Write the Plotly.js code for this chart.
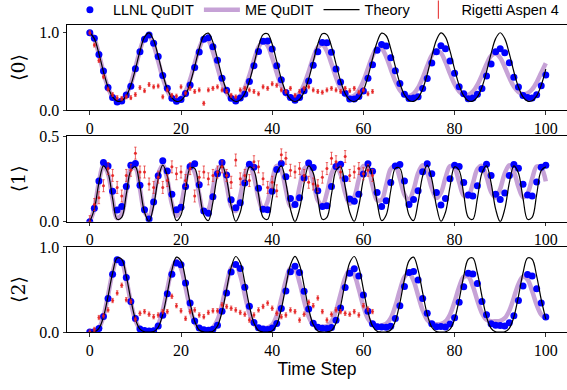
<!DOCTYPE html>
<html><head><meta charset="utf-8">
<script src="https://cdn.plot.ly/plotly-3.0.1.min.js"></script>
<style>html,body{margin:0;padding:0;background:#fff}#chart{width:567px;height:390px}</style>
</head><body><div id="chart"></div>
<script>
const timeSteps = [0,1,2,3,4,5,6,7,8,9,10,11,12,13,14,15,16,17,18,19,20,21,22,23,24,25,26,27,28,29,30,31,32,33,34,35,36,37,38,39,40,41,42,43,44,45,46,47,48,49,50,51,52,53,54,55,56,57,58,59,60,61,62,63,64,65,66,67,68,69,70,71,72,73,74,75,76,77,78,79,80,81,82,83,84,85,86,87,88,89,90,91,92,93,94,95,96,97,98,99,100];
const rigettiSteps = [0,1,2,3,4,5,6,7,8,9,10,11,12,13,14,15,16,17,18,19,20,21,22,23,24,25,26,27,28,29,30,31,32,33,34,35,36,37,38,39,40,41,42,43,44,45,46,47,48,49,50,51,52,53,54,55,56,57,58,59,60,61,62];

const theory0 = [1.000,0.924,0.730,0.495,0.296,0.170,0.115,0.119,0.183,0.320,0.528,0.762,0.944,0.998,0.902,0.697,0.463,0.273,0.158,0.112,0.124,0.198,0.346,0.561,0.793,0.961,0.994,0.878,0.663,0.432,0.252,0.147,0.110,0.131,0.214,0.374,0.595,0.823,0.975,0.986,0.851,0.629,0.402,0.232,0.138,0.110,0.138,0.232,0.402,0.629,0.851,0.986,0.975,0.823,0.595,0.374,0.214,0.131,0.110,0.147,0.252,0.432,0.663,0.878,0.994,0.961,0.793,0.561,0.346,0.198,0.124,0.112,0.158,0.273,0.463,0.697,0.902,0.998,0.944,0.762,0.528,0.320,0.183,0.119,0.115,0.170,0.296,0.495,0.730,0.924,1.000,0.924,0.730,0.495,0.296,0.170,0.115,0.119,0.183,0.320,0.528];
const theory1 = [0.000,0.073,0.227,0.326,0.284,0.136,0.014,0.025,0.159,0.299,0.320,0.205,0.055,0.002,0.093,0.248,0.330,0.267,0.114,0.006,0.039,0.182,0.311,0.311,0.182,0.039,0.006,0.114,0.267,0.330,0.248,0.093,0.002,0.055,0.205,0.320,0.299,0.159,0.025,0.014,0.136,0.284,0.326,0.227,0.073,0.000,0.073,0.227,0.326,0.284,0.136,0.014,0.025,0.159,0.299,0.320,0.205,0.055,0.002,0.093,0.248,0.330,0.267,0.114,0.006,0.039,0.182,0.311,0.311,0.182,0.039,0.006,0.114,0.267,0.330,0.248,0.093,0.002,0.055,0.205,0.320,0.299,0.159,0.025,0.014,0.136,0.284,0.326,0.227,0.073,0.000,0.073,0.227,0.326,0.284,0.136,0.014,0.025,0.159,0.299,0.320];
const theory2 = [0.000,0.003,0.043,0.178,0.420,0.694,0.871,0.856,0.658,0.381,0.152,0.033,0.002,0.000,0.005,0.056,0.207,0.460,0.728,0.881,0.837,0.620,0.343,0.128,0.024,0.001,0.000,0.008,0.070,0.238,0.501,0.760,0.888,0.815,0.581,0.306,0.106,0.018,0.000,0.000,0.012,0.087,0.271,0.541,0.789,0.890,0.789,0.541,0.271,0.087,0.012,0.000,0.000,0.018,0.106,0.306,0.581,0.815,0.888,0.760,0.501,0.238,0.070,0.008,0.000,0.001,0.024,0.128,0.343,0.620,0.837,0.881,0.728,0.460,0.207,0.056,0.005,0.000,0.002,0.033,0.152,0.381,0.658,0.856,0.871,0.694,0.420,0.178,0.043,0.003,0.000,0.003,0.043,0.178,0.420,0.694,0.871,0.856,0.658,0.381,0.152];

const me0 = [1.000,0.920,0.721,0.485,0.289,0.168,0.119,0.129,0.198,0.341,0.548,0.770,0.928,0.954,0.839,0.632,0.415,0.250,0.158,0.129,0.154,0.240,0.395,0.601,0.799,0.914,0.897,0.755,0.551,0.358,0.223,0.155,0.144,0.184,0.285,0.448,0.645,0.813,0.885,0.831,0.675,0.480,0.313,0.206,0.159,0.163,0.217,0.330,0.496,0.678,0.812,0.845,0.761,0.598,0.420,0.279,0.197,0.167,0.185,0.252,0.374,0.537,0.699,0.798,0.794,0.689,0.529,0.371,0.256,0.194,0.181,0.210,0.288,0.415,0.570,0.706,0.770,0.737,0.620,0.469,0.333,0.241,0.198,0.197,0.238,0.325,0.452,0.593,0.700,0.732,0.676,0.556,0.419,0.304,0.234,0.206,0.217,0.267,0.359,0.482,0.604];
const me1 = [0.000,0.076,0.232,0.328,0.279,0.132,0.020,0.044,0.182,0.309,0.313,0.192,0.057,0.030,0.135,0.277,0.329,0.246,0.105,0.034,0.097,0.235,0.327,0.289,0.160,0.056,0.071,0.192,0.308,0.318,0.214,0.091,0.062,0.151,0.278,0.330,0.261,0.137,0.069,0.119,0.241,0.326,0.298,0.186,0.091,0.100,0.203,0.308,0.322,0.234,0.125,0.094,0.168,0.280,0.330,0.275,0.167,0.104,0.143,0.248,0.325,0.306,0.210,0.126,0.128,0.215,0.308,0.324,0.252,0.158,0.127,0.187,0.283,0.330,0.287,0.195,0.138,0.168,0.256,0.324,0.312,0.230,0.153,0.150,0.223,0.307,0.326,0.263,0.174,0.141,0.192,0.282,0.330,0.292,0.203,0.143,0.166,0.251,0.322,0.314,0.235];
const me2 = [0.000,0.004,0.047,0.187,0.432,0.700,0.861,0.827,0.620,0.350,0.139,0.038,0.015,0.016,0.026,0.091,0.256,0.504,0.737,0.837,0.749,0.525,0.278,0.110,0.041,0.030,0.032,0.053,0.141,0.324,0.563,0.754,0.794,0.665,0.437,0.222,0.094,0.050,0.046,0.050,0.084,0.194,0.389,0.608,0.750,0.737,0.580,0.362,0.182,0.088,0.063,0.061,0.071,0.122,0.250,0.446,0.636,0.729,0.672,0.500,0.301,0.157,0.091,0.076,0.078,0.096,0.163,0.305,0.492,0.648,0.692,0.603,0.429,0.255,0.143,0.099,0.092,0.095,0.124,0.207,0.355,0.529,0.649,0.653,0.539,0.368,0.222,0.144,0.126,0.127,0.132,0.162,0.251,0.404,0.563,0.651,0.617,0.482,0.319,0.204,0.161];

const llnl0 = [1.000,0.927,0.719,0.505,0.290,0.161,0.103,0.117,0.195,0.306,0.535,0.753,0.915,0.972,0.865,0.691,0.447,0.281,0.152,0.113,0.137,0.214,0.325,0.551,0.750,0.915,0.935,0.820,0.643,0.410,0.257,0.152,0.116,0.154,0.208,0.369,0.573,0.756,0.890,0.892,0.789,0.572,0.390,0.227,0.163,0.125,0.163,0.248,0.375,0.580,0.754,0.873,0.870,0.748,0.531,0.363,0.216,0.141,0.141,0.176,0.246,0.412,0.585,0.772,0.848,0.828,0.677,0.509,0.342,0.204,0.148,0.154,0.171,0.277,0.407,0.607,0.753,0.832,0.794,0.634,0.477,0.300,0.211,0.147,0.156,0.204,0.279,0.439,0.594,0.754,0.792,0.741,0.610,0.425,0.298,0.187,0.163,0.156,0.199,0.313,0.453];
const llnl1 = [0.000,0.078,0.238,0.345,0.325,0.178,0.068,0.088,0.205,0.330,0.340,0.212,0.070,0.016,0.115,0.268,0.355,0.296,0.160,0.070,0.085,0.205,0.322,0.338,0.215,0.062,0.049,0.145,0.280,0.346,0.272,0.128,0.082,0.110,0.226,0.335,0.318,0.195,0.072,0.070,0.178,0.305,0.340,0.262,0.135,0.100,0.140,0.255,0.342,0.316,0.180,0.088,0.093,0.206,0.322,0.335,0.250,0.132,0.120,0.160,0.278,0.338,0.295,0.170,0.088,0.122,0.228,0.325,0.334,0.238,0.100,0.130,0.180,0.292,0.338,0.280,0.170,0.097,0.135,0.250,0.330,0.322,0.228,0.156,0.150,0.210,0.306,0.335,0.270,0.160,0.130,0.168,0.270,0.334,0.312,0.218,0.156,0.150,0.232,0.318,0.330];
const llnl2 = [0.000,0.004,0.040,0.183,0.395,0.680,0.850,0.815,0.640,0.360,0.160,0.035,0.018,0.012,0.015,0.070,0.198,0.450,0.678,0.812,0.790,0.575,0.340,0.128,0.048,0.025,0.022,0.032,0.078,0.245,0.458,0.705,0.795,0.748,0.525,0.302,0.112,0.050,0.036,0.030,0.048,0.100,0.275,0.482,0.708,0.772,0.700,0.478,0.270,0.104,0.055,0.045,0.040,0.052,0.138,0.281,0.522,0.690,0.745,0.660,0.436,0.245,0.098,0.062,0.058,0.055,0.068,0.160,0.308,0.535,0.700,0.712,0.612,0.395,0.220,0.096,0.062,0.066,0.060,0.094,0.168,0.350,0.531,0.690,0.682,0.570,0.358,0.202,0.096,0.078,0.075,0.072,0.108,0.190,0.370,0.540,0.675,0.660,0.510,0.340,0.176];

const rigetti0 = [1.00,0.84,0.64,0.43,0.27,0.20,0.16,0.15,0.17,0.16,0.20,0.29,0.25,0.33,0.30,0.31,0.17,0.26,0.19,0.18,0.30,0.22,0.28,0.24,0.26,0.087,0.26,0.28,0.30,0.26,0.24,0.19,0.17,0.26,0.28,0.26,0.24,0.21,0.30,0.28,0.34,0.32,0.26,0.24,0.28,0.19,0.24,0.28,0.30,0.26,0.24,0.23,0.26,0.28,0.26,0.24,0.28,0.25,0.28,0.23,0.26,0.21,0.24];
const rigetti1 = [0.00,0.10,0.14,0.21,0.31,0.27,0.20,0.15,0.27,0.30,0.40,0.29,0.29,0.22,0.20,0.26,0.20,0.24,0.32,0.28,0.29,0.24,0.31,0.15,0.26,0.29,0.25,0.27,0.29,0.32,0.27,0.23,0.36,0.25,0.27,0.24,0.35,0.32,0.25,0.20,0.23,0.18,0.39,0.37,0.30,0.29,0.31,0.27,0.23,0.22,0.21,0.26,0.31,0.37,0.35,0.29,0.38,0.27,0.29,0.31,0.28,0.30,0.27];
const rigetti2 = [0.00,0.03,0.17,0.19,0.26,0.37,0.46,0.55,0.38,0.36,0.15,0.22,0.24,0.21,0.18,0.20,0.24,0.24,0.42,0.31,0.25,0.16,0.24,0.26,0.20,0.18,0.23,0.25,0.25,0.32,0.30,0.28,0.26,0.23,0.21,0.14,0.20,0.26,0.30,0.34,0.28,0.22,0.18,0.20,0.26,0.24,0.14,0.21,0.35,0.31,0.40,0.24,0.14,0.21,0.26,0.24,0.22,0.21,0.24,0.20,0.31,0.27,0.24];
const rigettiErr = [0.025, 0.035, 0.025];

const xTicks = [0,20,40,60,80,100];
const yLabels = ['\u27E80\u27E9','\u27E81\u27E9','\u27E82\u27E9'];
const seriesNames = ['LLNL QuDIT','ME QuDIT','Theory','Rigetti Aspen 4'];

const PURPLE = 'rgb(198,162,214)';
const BLUE = '#0000ff';
const RED = 'rgba(228,30,30,0.9)';
const RED_ERR = 'rgba(228,40,40,0.7)';
const RED_LEG = 'rgb(232,70,70)';

const axesX = ['x','x2','x3'];
const axesY = ['y','y2','y3'];
const meSets = [me0, me1, me2];
const llnlSets = [llnl0, llnl1, llnl2];
const theorySets = [theory0, theory1, theory2];
const rigettiSets = [rigetti0, rigetti1, rigetti2];

const traces = [];
for (let i = 0; i < 3; i++) {
  traces.push({x: timeSteps, y: meSets[i], xaxis: axesX[i], yaxis: axesY[i], type: 'scatter', mode: 'lines',
    line: {color: PURPLE, width: 4.5, shape: 'spline', smoothing: 1}, name: seriesNames[1],
    legendgroup: 'me', showlegend: i === 0, legendrank: 2, hoverinfo: 'skip'});
}
for (let i = 0; i < 3; i++) {
  traces.push({x: timeSteps, y: llnlSets[i], xaxis: axesX[i], yaxis: axesY[i], type: 'scatter', mode: 'markers',
    marker: {color: BLUE, size: 7}, name: seriesNames[0],
    legendgroup: 'llnl', showlegend: i === 0, legendrank: 1});
}
for (let i = 0; i < 3; i++) {
  traces.push({x: timeSteps, y: theorySets[i], xaxis: axesX[i], yaxis: axesY[i], type: 'scatter', mode: 'lines',
    line: {color: '#000', width: 1.2, shape: 'spline', smoothing: 1}, name: seriesNames[2],
    legendgroup: 'th', showlegend: i === 0, legendrank: 3, hoverinfo: 'skip'});
}
for (let i = 0; i < 3; i++) {
  traces.push({x: rigettiSteps, y: rigettiSets[i], xaxis: axesX[i], yaxis: axesY[i], type: 'scatter', mode: 'markers',
    marker: {color: RED, size: 3},
    error_y: {type: 'constant', value: rigettiErr[i], thickness: 1, width: 1.2, color: RED_ERR},
    name: seriesNames[3], legendgroup: 'rig', showlegend: false});
}
// legend entry for the Rigetti error-bar series
traces.push({x: [null], y: [null], xaxis: 'x', yaxis: 'y', type: 'scatter', mode: 'markers',
  marker: {symbol: 'line-ns-open', size: 13, color: RED_LEG, line: {width: 1.2, color: RED_LEG}},
  name: seriesNames[3], legendgroup: 'rig', showlegend: true, legendrank: 4, hoverinfo: 'skip'});

const serif = "'Liberation Serif', 'Times New Roman', serif";
const sans = "'Liberation Sans', Arial, sans-serif";
const xBase = () => ({range: [-5, 104.65], tickvals: xTicks, ticks: 'outside', ticklen: 3.5, tickwidth: 0.8,
  tickcolor: '#000', showline: true, linecolor: '#000', linewidth: 1, mirror: true, showgrid: false,
  zeroline: false, tickfont: {family: serif, size: 16, color: '#000'}, fixedrange: true});
const yBase = (label, range, tv) => ({range: range, tickvals: tv, tickformat: '.1f', ticks: 'outside',
  ticklen: 3.5, tickwidth: 0.8, tickcolor: '#000', showline: true, linecolor: '#000', linewidth: 1,
  showgrid: false, zeroline: false, tickfont: {family: serif, size: 16, color: '#000'},
  title: {text: label, font: {family: "'DejaVu Serif', serif", size: 19, color: '#000'}, standoff: 8}, fixedrange: true});

const layout = {
  width: 567, height: 390, margin: {l: 67, r: 0, t: 25, b: 58, autoexpand: false},
  paper_bgcolor: '#fff', plot_bgcolor: '#fff', showlegend: true,
  legend: {orientation: 'h', xref: 'container', yref: 'container', x: 0.118, xanchor: 'left',
    y: 0.975, yanchor: 'middle', itemwidth: 36,
    font: {family: sans, size: 14.5, color: '#000'},
    bgcolor: 'rgba(0,0,0,0)', traceorder: 'normal'},
  xaxis: Object.assign(xBase(), {anchor: 'y', domain: [0, 1]}),
  xaxis2: Object.assign(xBase(), {anchor: 'y2', domain: [0, 1]}),
  xaxis3: Object.assign(xBase(), {anchor: 'y3', domain: [0, 1],
    title: {text: 'Time Step', font: {family: sans, size: 17.5, color: '#000'}, standoff: 3}}),
  yaxis: Object.assign(yBase(yLabels[0], [0, 1.1], [0, 1]), {anchor: 'x', domain: [0.7231, 1]}),
  yaxis2: Object.assign(yBase(yLabels[1], [0, 0.5], [0, 0.5]), {anchor: 'x2', domain: [0.3593, 0.6384]}),
  yaxis3: Object.assign(yBase(yLabels[2], [0, 1], [0, 1]), {anchor: 'x3', domain: [0, 0.2769]})
};

Plotly.newPlot('chart', traces, layout, {displayModeBar: false, staticPlot: true});
</script>
</body></html>
